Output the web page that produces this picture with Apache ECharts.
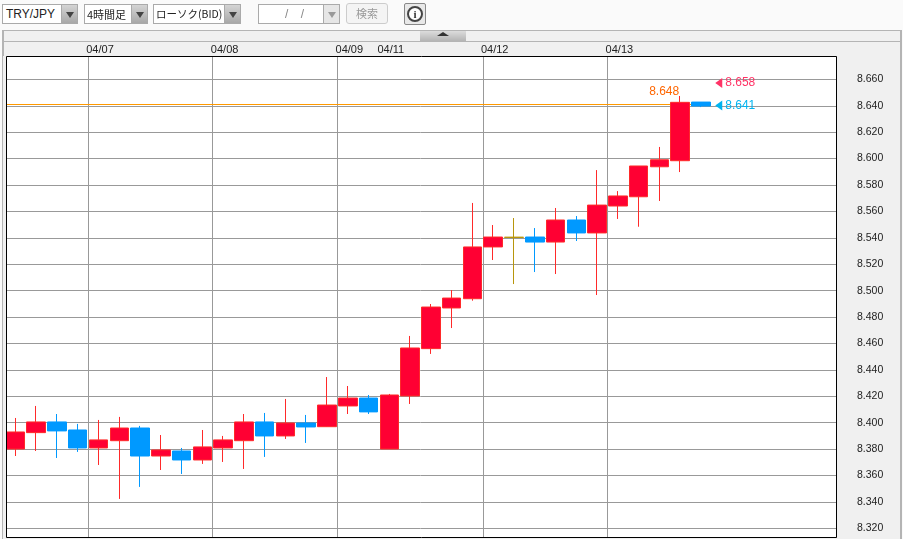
<!DOCTYPE html>
<html>
<head>
<meta charset="utf-8">
<title>TRY/JPY</title>
<script src="https://cdn.jsdelivr.net/npm/echarts@6/dist/echarts.min.js"></script>
<style>
html, body { margin: 0; padding: 0; background: #fafafa; overflow: hidden; }
body { width: 903px; height: 539px; position: relative; font: 12px "Liberation Sans", sans-serif; color: #222; }
.abs { position: absolute; box-sizing: border-box; }
.sel { background: #fff; border: 1px solid #aaa; height: 20px; top: 4px; line-height: 18px; padding-left: 3px; white-space: nowrap; overflow: hidden; }
.arrow { background: linear-gradient(#d4d4d4, #a8a8a8); border: 1px solid #aaa; height: 20px; top: 4px; width: 17px; }
.arrow:after { content: ""; position: absolute; left: 4px; top: 7px; border: 4px solid transparent; border-top: 6px solid #444; }
.arrow.off { background: #e6e6e6; }
.arrow.off:after { border-top-color: #999; }
#panel { left: 2px; top: 30px; width: 900px; height: 509px; background: #f0f0f0; border: 2px solid #b4b4b4; border-bottom: none; border-width: 1px 2px 0 2px; }
#bar { left: 2px; top: 41px; width: 900px; height: 1px; background: #b4b4b4; }
#fold { left: 420px; top: 31px; width: 46px; height: 10px; background: linear-gradient(#dcdcdc, #b4b4b4); }
#fold:after { content: ""; position: absolute; left: 17px; top: 1px; border: 6px solid transparent; border-top: 0; border-bottom: 4px solid #333; }
#chart { left: 0; top: 0; width: 903px; height: 539px; }
</style>
</head>
<body>
<div class="abs" id="panel"></div>
<div class="abs" id="bar"></div>
<div class="abs" id="fold"></div>
<div class="abs" id="chart"></div>

<div class="abs sel" style="left:2px;width:60px;">TRY/JPY</div>
<div class="abs arrow" style="left:61px;"></div>
<div class="abs sel" style="left:84px;width:48px;padding-left:2px;font-family:'Noto Sans CJK JP';font-size:11px;">4時間足</div>
<div class="abs arrow" style="left:131px;"></div>
<div class="abs sel" style="left:153px;width:72px;padding-left:2px;font-family:'Noto Sans CJK JP';font-size:10.5px;">ローソク(BID)</div>
<div class="abs arrow" style="left:224px;"></div>
<div class="abs sel" style="left:258px;width:66px;color:#888;padding-left:26px;word-spacing:9px;">/ /</div>
<div class="abs arrow off" style="left:323px;"></div>
<div class="abs" style="left:346px;top:3px;width:42px;height:21px;border:1px solid #ccc;border-radius:3px;background:#f4f4f4;color:#999;text-align:center;line-height:19px;font-family:'Noto Sans CJK JP';font-size:11px;">検索</div>
<div class="abs" style="left:404px;top:3px;width:22px;height:22px;border:1px solid #888;border-radius:2px;background:#e8e8e8;"></div>
<div class="abs" style="left:407px;top:6px;width:16px;height:16px;border:2px solid #444;border-radius:50%;background:#fff;color:#333;text-align:center;line-height:12px;font:bold 11px/12px 'Liberation Serif';">i</div>

<script>
// 4h candles
var dateLabels = ['', '', '', '', '04/07', '', '', '', '', '', '04/08', '', '', '', '', '', '04/09', '', '04/11', '', '', '', '', '04/12', '', '', '', '', '', '04/13', '', '', '', '', '', '', '', '', '', '']
var splitAt = [4, 10, 16, 23, 29]
var opens = [8.3801, 8.3925, 8.4006, 8.3945, 8.3809, 8.3864, 8.3960, 8.3748, 8.3786, 8.3718, 8.3809, 8.3864, 8.4006, 8.3900, 8.3998, 8.3970, 8.4127, 8.4187, 8.3801, 8.4203, 8.4561, 8.4869, 8.4939, 8.5331, 8.5403, 8.5406, 8.5368, 8.5535, 8.5437, 8.5641, 8.5711, 8.5938, 8.5984, 8.6428]
var closes = [8.3930, 8.4006, 8.3938, 8.3809, 8.3870, 8.3960, 8.3748, 8.3794, 8.3718, 8.3817, 8.3870, 8.4006, 8.3900, 8.3998, 8.3968, 8.4134, 8.4187, 8.4082, 8.4210, 8.4566, 8.4876, 8.4944, 8.5331, 8.5406, 8.5405, 8.5368, 8.5535, 8.5437, 8.5648, 8.5717, 8.5944, 8.5991, 8.6426, 8.6398]
var lows = [8.3748, 8.3786, 8.3733, 8.3779, 8.3680, 8.3423, 8.3514, 8.3642, 8.3612, 8.3688, 8.3703, 8.3650, 8.3741, 8.3877, 8.3847, 8.3968, 8.4066, 8.4066, 8.3801, 8.4142, 8.4521, 8.4717, 8.4924, 8.5232, 8.5050, 8.5141, 8.5126, 8.5376, 8.4967, 8.5543, 8.5484, 8.5679, 8.5898, 8.6390]
var highs = [8.4036, 8.4127, 8.4066, 8.3991, 8.4021, 8.4044, 8.3976, 8.3907, 8.3809, 8.3945, 8.3900, 8.4066, 8.4074, 8.4180, 8.4059, 8.4346, 8.4278, 8.4210, 8.4218, 8.4657, 8.4899, 8.5005, 8.5664, 8.5497, 8.5550, 8.5474, 8.5626, 8.5565, 8.5913, 8.5754, 8.5944, 8.6088, 8.6474, 8.6428]
var dojiIndex = 24
var priceTicks = [8.32, 8.34, 8.36, 8.38, 8.40, 8.42, 8.44, 8.46, 8.48, 8.50, 8.52, 8.54, 8.56, 8.58, 8.60, 8.62, 8.64, 8.66]
var askPrice = 8.658
var bidPrice = 8.641
var highPrice = 8.648
var axisFont = '"Liberation Sans", sans-serif'

var candles = opens.map(function(o, i) {
  var item = { value: [o, closes[i], lows[i], highs[i]] }
  // open and close are the same tick here, this candle is drawn gold
  if (i === dojiIndex) {
    item.itemStyle = { color: '#b8960c', borderColor: '#b8960c' }
  }
  return item
})

var frameGraphics = [
  { id: 'plotbg', type: 'rect', z: -10, shape: { x: 6, y: 56, width: 830, height: 481 }, style: { fill: '#fff' } },
  { id: 'cut', type: 'rect', z: 90, shape: { x: 3, y: 56, width: 3, height: 483 }, style: { fill: '#f0f0f0' } },
  { id: 'frame', type: 'rect', z: 100, shape: { x: 6.5, y: 56.5, width: 830, height: 481 }, style: { fill: 'none', stroke: '#000', lineWidth: 1 } }
]

var chart = echarts.init(document.getElementById('chart'), null, { renderer: 'canvas' })
chart.setOption({
  animation: false,
  backgroundColor: 'transparent',
  // the x axis bands start 1px left of the frame, the first candle gets cut by the frame
  grid: { left: 5, top: 56.5, width: 831, height: 481, show: false },
  graphic: frameGraphics,
  xAxis: {
    type: 'category',
    position: 'top',
    data: dateLabels,
    axisLine: { show: false },
    axisTick: { show: false },
    axisLabel: { interval: 0, margin: 1, padding: [0, 0, 0, 3], color: '#222', fontSize: 11, fontFamily: axisFont },
    splitLine: {
      show: true,
      interval: function(i) { return splitAt.indexOf(i) >= 0 },
      lineStyle: { color: '#999', width: 1 }
    }
  },
  yAxis: {
    type: 'value',
    position: 'right',
    min: 8.3131,
    max: 8.6773,
    axisLine: { show: false },
    axisTick: { show: false, customValues: priceTicks },
    axisLabel: {
      customValues: priceTicks,
      margin: 21,
      padding: [2, 0, 0, 0],
      color: '#222',
      fontSize: 10.5,
      fontFamily: axisFont,
      formatter: function(v) { return v.toFixed(3) }
    },
    splitLine: { show: true, lineStyle: { color: '#999', width: 1 } }
  },
  series: [{
    type: 'candlestick',
    z: 5,
    data: candles,
    barWidth: 19,
    itemStyle: { color: '#ff0033', color0: '#0099ff', borderColor: '#ff2a2a', borderColor0: '#0099ff', borderWidth: 1 },
    markPoint: {
      silent: true,
      data: [
        {
          coord: [34, askPrice], symbol: 'triangle', symbolRotate: 90, symbolSize: [10, 7], symbolOffset: [-3, 1],
          itemStyle: { color: '#ff3366' },
          label: { show: true, position: 'right', distance: 0, offset: [3, 0], formatter: String(askPrice), color: '#ff3366', fontSize: 12, fontFamily: axisFont }
        },
        {
          coord: [34, bidPrice], symbol: 'triangle', symbolRotate: 90, symbolSize: [10, 7], symbolOffset: [-3, 1],
          itemStyle: { color: '#00b4f0' },
          label: { show: true, position: 'right', distance: 0, offset: [3, 0], formatter: String(bidPrice), color: '#00b4f0', fontSize: 12, fontFamily: axisFont }
        },
        {
          coord: [32, highPrice], symbol: 'circle', symbolSize: 0,
          label: { show: true, position: 'top', distance: 0, offset: [-16, 2], formatter: String(highPrice), color: '#ff6600', fontSize: 12, fontFamily: axisFont }
        }
      ]
    }
  }]
})

// bid line stops just after the last candle, a markLine would run to the frame
var bidY = Math.floor(chart.convertToPixel({ yAxisIndex: 0 }, bidPrice)) + 0.5
var lastX = chart.convertToPixel({ xAxisIndex: 0 }, opens.length - 1)
chart.setOption({
  graphic: frameGraphics.concat([{
    id: 'bidline',
    type: 'line',
    z: 3,
    shape: { x1: 7, y1: bidY, x2: lastX + 10, y2: bidY },
    style: { stroke: '#ff9900', lineWidth: 1 }
  }])
})
</script>
</body>
</html>
